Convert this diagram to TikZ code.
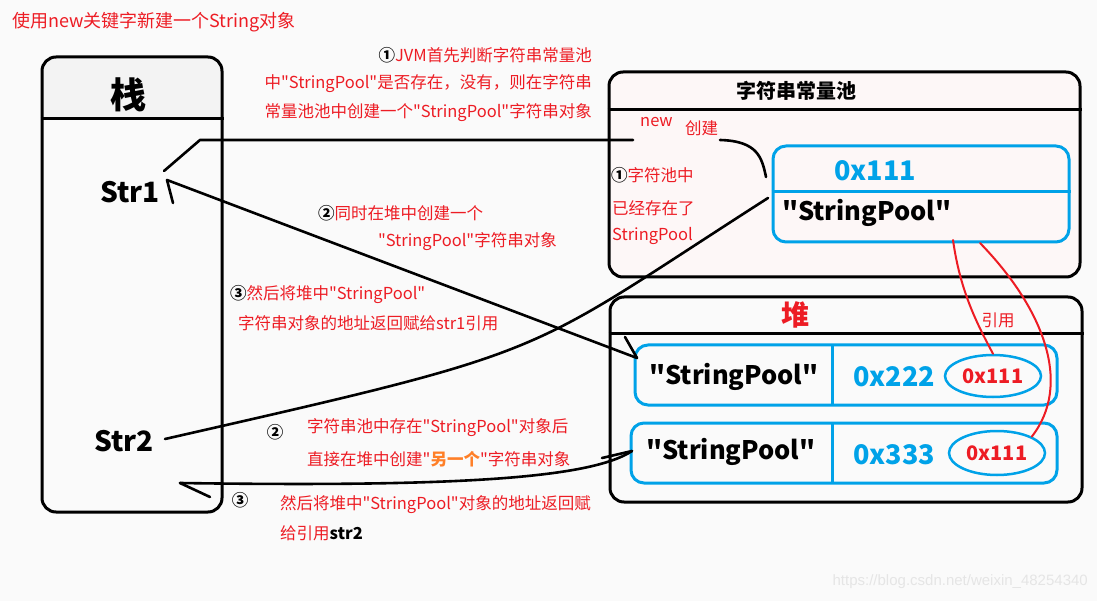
\documentclass[tikz,border=0pt]{standalone}
\usepackage{fontspec}
\setmainfont{Noto Sans CJK SC}[Ligatures=TeXOff]
\newfontfamily\wmfont{Liberation Sans}
\usetikzlibrary{shapes.geometric}
\definecolor{pred}{RGB}{237,28,36}
\definecolor{pblue}{RGB}{0,162,232}
\definecolor{porange}{RGB}{255,127,39}
\definecolor{bgc}{RGB}{250,250,250}
\definecolor{poolbg}{RGB}{253,247,247}
\definecolor{headgray}{RGB}{243,243,243}
\newcommand\cnum[1]{\textcolor{black}{\textbf{#1}}}
\tikzset{
  box/.style={draw=black, line width=3pt, rounded corners=14pt, inner sep=0pt},
  bluebox/.style={draw=pblue, line width=3pt, rounded corners=13pt, inner sep=0pt},
  conn/.style={draw=black, line width=2.6pt, line cap=round, line join=round},
  rline/.style={draw=pred, line width=2pt, line cap=round},
  note/.style={text=pred, font=\fontsize{16.5}{20}\selectfont, inner sep=0pt},
  big/.style={font=\bfseries\fontsize{28}{32}\selectfont, inner sep=0pt},
  sp/.style={font=\bfseries\fontsize{25.5}{30}\selectfont, inner sep=0pt},
  hexb/.style={text=pblue, font=\bfseries\fontsize{27}{30}\selectfont, inner sep=0pt},
  oval/.style={ellipse, draw=pblue, line width=2.5pt, inner sep=0pt, text=pred, font=\bfseries\fontsize{20}{24}\selectfont},
}
\begin{document}
\begin{tikzpicture}[x=1pt,y=-1pt]
\fill[bgc] (0,0) rectangle (1097,601);
\useasboundingbox (0,0) rectangle (1097,601);

% ---------- stack ----------
\begin{scope}
  \clip[rounded corners=14pt] (42,57) rectangle (222,512);
  \fill[headgray] (42,57) rectangle (222,119);
\end{scope}
\node[box, minimum width=180pt, minimum height=455pt] (stack) at (132,284.5) {};
\draw[line width=3pt] (stack.west |- 0,119) -- (stack.east |- 0,119);
\node[inner sep=0pt, font=\bfseries\fontsize{36}{40}\selectfont] (stk) at (128,95) {栈};
\node[big] (str1) at (130,192) {Str1};
\node[big] (str2) at (124,441) {Str2};

% ---------- string constant pool ----------
\node[box, fill=poolbg, minimum width=471pt, minimum height=205pt] (pool) at (844.5,174.5) {};
\draw[line width=3pt] (pool.west |- 0,110) -- (pool.east |- 0,110);
\node[inner sep=0pt, font=\bfseries\fontsize{20}{24}\selectfont] (pooltitle) at (796,91) {字符串常量池};
\node[note, anchor=west] (newt) at (640,122) {new};
\node[note, anchor=west] (chuang) at (685,128) {创建};
\node[note, anchor=west] (p1) at (611,175) {\cnum{①}字符池中};
\node[note, anchor=west] (p2) at (612,208) {已经存在了};
\node[note, anchor=west] (p3) at (612,236) {StringPool};

\node[bluebox, minimum width=296pt, minimum height=96pt] (pstr) at (921,194) {};
\draw[pblue, line width=3pt] (pstr.west |- 0,192) -- (pstr.east |- 0,192);
\node[hexb] (h111) at (875,171) {0x111};
\node[sp, anchor=west] (pval) at (782,213) {"StringPool"};

% ---------- heap ----------
\node[box, minimum width=472pt, minimum height=205pt] (heap) at (846,399.5) {};
\draw[line width=3pt] (heap.west |- 0,334) -- (heap.east |- 0,334);
\node[inner sep=0pt, text=pred, font=\bfseries\fontsize{28}{32}\selectfont] (heaptitle) at (795,315) {堆};
\node[note] (yy) at (998,320) {引用};

\node[bluebox, minimum width=422pt, minimum height=60pt] (hb1) at (846,375) {};
\draw[pblue, line width=3pt] (832,345) -- (832,405);
\node[sp] (hs1) at (734,377) {"StringPool"};
\node[hexb] (h222) at (894,377) {0x222};
\node[oval, minimum width=96pt, minimum height=42pt] (e1) at (993,376) {0x111};

\node[bluebox, minimum width=426pt, minimum height=60pt] (hb2) at (844,453) {};
\draw[pblue, line width=3pt] (832,423) -- (832,483);
\node[sp] (hs2) at (731,452) {"StringPool"};
\node[hexb] (h333) at (894,455) {0x333};
\node[oval, minimum width=96pt, minimum height=44pt] (e2) at (997,453) {0x111};

% ---------- annotations ----------
\node[note, anchor=west, font=\fontsize{18}{20}\selectfont] (title) at (12,22) {使用new关键字新建一个String对象};
\node[note, anchor=east] (n1a) at (592,55) {\cnum{①}JVM首先判断字符串常量池};
\node[note, anchor=east] (n1b) at (592,84) {中"StringPool"是否存在，没有，则在字符串};
\node[note, anchor=east] (n1c) at (592,113) {常量池池中创建一个"StringPool"字符串对象};
\node[note, anchor=west] (n2a) at (318,213) {\cnum{②}同时在堆中创建一个};
\node[note, anchor=west] (n2b) at (378,242) {"StringPool"字符串对象};
\node[note, anchor=west] (n3a) at (230,295) {\cnum{③}然后将堆中"StringPool"};
\node[note, anchor=west] (n3b) at (238,323) {字符串对象的地址返回赋给str1引用};
\node[note] (c2) at (275,432) {\cnum{②}};
\node[note, anchor=west] (b2a) at (307,428) {字符串池中存在"StringPool"对象后};
\node[note, anchor=west] (b2b) at (307,459) {直接在堆中创建"\textcolor{porange}{\textbf{另一个}}"字符串对象};
\node[note] (c3) at (240,500) {\cnum{③}};
\node[note, anchor=west] (b3a) at (280,505) {然后将堆中"StringPool"对象的地址返回赋};
\node[note, anchor=west] (b3b) at (280,533) {给引用\textcolor{black}{\textbf{str2}}};
\node[inner sep=0pt, anchor=east, text=black!10, font=\wmfont\fontsize{15}{18}\selectfont] (wm) at (1088,582) {https://blog.csdn.net/weixin\_48254340};

% ---------- connectors ----------
\coordinate (a1) at (164,171);
\coordinate (a2) at (200,140);
\coordinate (a3) at (633,140);
\coordinate (a4) at (720,140);
\coordinate (a5) at (766,177);
\draw[conn] (a1) -- (a2) -- (a3);
\draw[conn] (a4) .. controls (758,141) and (762,158) .. (a5);

\coordinate (s1) at (167,180);
\coordinate (s1b) at (173,203);
\coordinate (h1) at (637,358);
\coordinate (h1b) at (625,337);
\draw[conn] (s1) -- (h1);
\draw[conn] (s1) -- (s1b);
\draw[conn] (h1) -- (h1b);

\coordinate (s2) at (165,439);
\coordinate (pp) at (768,198);
\draw[conn] (s2) .. controls (565,348) and (518,358) .. (pp);

\coordinate (s2b) at (180,483);
\coordinate (s2c) at (210,497);
\coordinate (h2) at (632,451);
\coordinate (h2b) at (602,458);
\draw[conn] (s2b) .. controls (450,487) and (590,479) .. (h2);
\draw[conn] (s2b) -- (s2c);
\draw[conn] (h2) -- (h2b);

\coordinate (r1) at (953,240);
\coordinate (r2) at (980,243);
\draw[rline] (r1) .. controls (960,290) and (976,322) .. (e1.north);
\draw[rline] (r2) .. controls (1045,310) and (1072,385) .. (e2.north east);
\end{tikzpicture}
\end{document}
